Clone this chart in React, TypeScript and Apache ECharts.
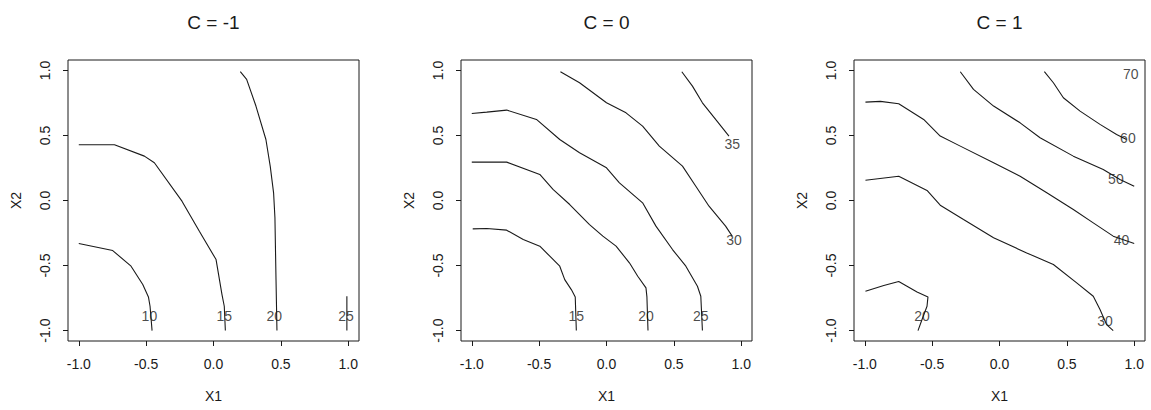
import React, { useEffect, useRef } from "react";
import * as echarts from "echarts";

// ---- Data ----
const panelTitles = ["C = -1", "C = 0", "C = 1"];
const tickValues = [-1, -0.5, 0, 0.5, 1];
const xName = "X1";
const yName = "X2";

// Panel 1: C = -1
const p1_10 = [[-1, -0.331], [-0.748, -0.385], [-0.612, -0.505], [-0.525, -0.646], [-0.483, -0.741], [-0.471, -0.813], [-0.456, -1.0]];
const p1_15 = [[-1, 0.428], [-0.735, 0.428], [-0.513, 0.341], [-0.439, 0.29], [-0.234, -0.005], [-0.105, -0.236], [0.019, -0.454], [0.063, -0.723], [0.08, -0.813], [0.088, -1.0]];
const p1_20 = [[0.199, 0.99], [0.246, 0.931], [0.315, 0.726], [0.389, 0.469], [0.421, 0.264], [0.446, 0.059], [0.456, -0.133], [0.464, -0.608], [0.471, -1.0]];
const p1_25 = [[0.99, -0.736], [0.99, -1.0]];
const p1_labels = [[-0.476, -0.89, "10"], [0.08, -0.89, "15"], [0.451, -0.89, "20"], [0.983, -0.89, "25"]];

// Panel 2: C = 0
const p2_15 = [[-0.993, -0.218], [-0.889, -0.215], [-0.741, -0.228], [-0.618, -0.3], [-0.495, -0.351], [-0.421, -0.428], [-0.347, -0.505], [-0.31, -0.608], [-0.261, -0.685], [-0.232, -0.741], [-0.224, -1.0]];
const p2_20 = [[-1, 0.295], [-0.741, 0.295], [-0.495, 0.2], [-0.397, 0.085], [-0.273, -0.031], [-0.126, -0.185], [-0.027, -0.274], [0.071, -0.351], [0.17, -0.479], [0.232, -0.582], [0.293, -0.672], [0.3, -0.741], [0.308, -1.0]];
const p2_25 = [[-1, 0.669], [-0.889, 0.679], [-0.741, 0.695], [-0.52, 0.623], [-0.347, 0.469], [-0.2, 0.367], [0.0, 0.251], [0.096, 0.136], [0.268, -0.018], [0.367, -0.197], [0.49, -0.377], [0.589, -0.505], [0.675, -0.659], [0.7, -0.736], [0.712, -1.0]];
const p2_30 = [[-0.342, 0.99], [-0.2, 0.905], [0.0, 0.751], [0.145, 0.674], [0.268, 0.572], [0.392, 0.418], [0.564, 0.264], [0.663, 0.11], [0.761, -0.044], [0.884, -0.197], [0.933, -0.274]];
const p2_35 = [[0.559, 0.99], [0.638, 0.879], [0.712, 0.751], [0.81, 0.623], [0.909, 0.495]];
const p2_labels = [[-0.224, -0.885, "15"], [0.293, -0.885, "20"], [0.7, -0.885, "25"], [0.946, -0.3, "30"], [0.933, 0.438, "35"]];

// Panel 3: C = 1
const p3_20 = [[-0.995, -0.697], [-0.859, -0.654], [-0.748, -0.623], [-0.612, -0.703], [-0.531, -0.741], [-0.538, -0.813], [-0.575, -0.915], [-0.605, -1.0]];
const p3_30 = [[-0.995, 0.156], [-0.748, 0.187], [-0.538, 0.077], [-0.44, -0.036], [-0.267, -0.146], [-0.044, -0.287], [0.202, -0.403], [0.4, -0.492], [0.573, -0.633], [0.696, -0.736], [0.746, -0.838], [0.795, -0.954], [0.844, -1.0]];
const p3_40 = [[-0.995, 0.756], [-0.884, 0.762], [-0.748, 0.744], [-0.563, 0.623], [-0.44, 0.495], [-0.291, 0.418], [-0.044, 0.29], [0.153, 0.187], [0.351, 0.059], [0.548, -0.069], [0.696, -0.172], [0.844, -0.274], [1.0, -0.331]];
const p3_50 = [[-0.291, 0.99], [-0.193, 0.854], [-0.044, 0.726], [0.153, 0.597], [0.301, 0.482], [0.548, 0.341], [0.77, 0.238], [0.894, 0.162], [1.0, 0.11]];
const p3_60 = [[0.333, 0.99], [0.4, 0.905], [0.474, 0.79], [0.598, 0.687], [0.746, 0.585], [0.869, 0.508], [0.943, 0.469]];
const p3_labels = [[-0.575, -0.885, "20"], [0.783, -0.928, "30"], [0.906, -0.3, "40"], [0.864, 0.167, "50"], [0.953, 0.477, "60"], [0.975, 0.974, "70"]];

const panelLines = [
  [p1_10, p1_15, p1_20, p1_25],
  [p2_15, p2_20, p2_25, p2_30, p2_35],
  [p3_20, p3_30, p3_40, p3_50, p3_60],
];
const panelLabels = [p1_labels, p2_labels, p3_labels];

const FONT = '"Liberation Sans", Arial, sans-serif';
const INK = "#1a1a1a";
const gridLefts = [68, 461, 854];
const GRID_TOP = 60;
const GRID_W = 291;
const GRID_H = 281;

export default function App() {
  const ref = useRef<HTMLDivElement>(null);

  useEffect(() => {
    if (!ref.current) return;
    const chart = echarts.init(ref.current, undefined, { renderer: "svg" });

    const grids = gridLefts.map((l) => ({
      left: l,
      top: GRID_TOP,
      width: GRID_W,
      height: GRID_H,
      show: true,
      borderColor: INK,
      borderWidth: 1,
      backgroundColor: "transparent",
      containLabel: false,
    }));

    const fmt = (v: number) => v.toFixed(1);

    const xAxes = gridLefts.map((_, i) => ({
      type: "value",
      gridIndex: i,
      min: -1.08,
      max: 1.08,
      axisLine: { show: false, onZero: false },
      axisTick: { show: true, inside: false, length: 5, customValues: tickValues, lineStyle: { color: INK, width: 1 } },
      axisLabel: { show: true, customValues: tickValues, formatter: fmt, fontSize: 14, fontFamily: FONT, color: INK, margin: 16 },
      splitLine: { show: false },
      name: xName,
      nameLocation: "middle",
      nameGap: 48,
      nameTextStyle: { fontSize: 14, fontFamily: FONT, color: INK },
    }));

    const yAxes = gridLefts.map((_, i) => ({
      type: "value",
      gridIndex: i,
      min: -1.08,
      max: 1.08,
      axisLine: { show: false, onZero: false },
      axisTick: { show: true, inside: false, length: 5, customValues: tickValues, lineStyle: { color: INK, width: 1 } },
      axisLabel: { show: true, customValues: tickValues, formatter: fmt, fontSize: 14, fontFamily: FONT, color: INK, margin: 16, rotate: 90 },
      splitLine: { show: false },
      name: yName,
      nameLocation: "middle",
      nameGap: 45,
      nameTextStyle: { fontSize: 14, fontFamily: FONT, color: INK },
    }));

    const series: any[] = [];
    panelLines.forEach((lines, i) => {
      lines.forEach((pts) => {
        series.push({
          type: "line",
          xAxisIndex: i,
          yAxisIndex: i,
          data: pts,
          showSymbol: false,
          symbol: "none",
          smooth: false,
          lineStyle: { color: INK, width: 1.1 },
          z: 2,
        });
      });
      series.push({
        type: "scatter",
        xAxisIndex: i,
        yAxisIndex: i,
        data: panelLabels[i],
        symbolSize: 1,
        itemStyle: { color: "rgba(0,0,0,0)" },
        label: {
          show: true,
          position: "inside",
          formatter: (p: any) => p.data[2],
          fontSize: 14,
          fontFamily: FONT,
          color: INK,
        },
        z: 3,
      });
    });

    const titles = gridLefts.map((l, i) => ({
      type: "text",
      x: l + GRID_W / 2,
      y: 22,
      style: {
        text: panelTitles[i],
        fontSize: 19,
        fontFamily: FONT,
        fill: INK,
        textAlign: "center",
        textVerticalAlign: "middle",
      },
    }));

    chart.setOption({
      animation: false,
      backgroundColor: "#ffffff",
      grid: grids,
      xAxis: xAxes,
      yAxis: yAxes,
      series,
      graphic: titles,
    });

    return () => chart.dispose();
  }, []);

  return (
    <div
      ref={ref}
      style={{ position: "fixed", left: 0, top: 0, width: 1151, height: 410, background: "#fff" }}
    />
  );
}
